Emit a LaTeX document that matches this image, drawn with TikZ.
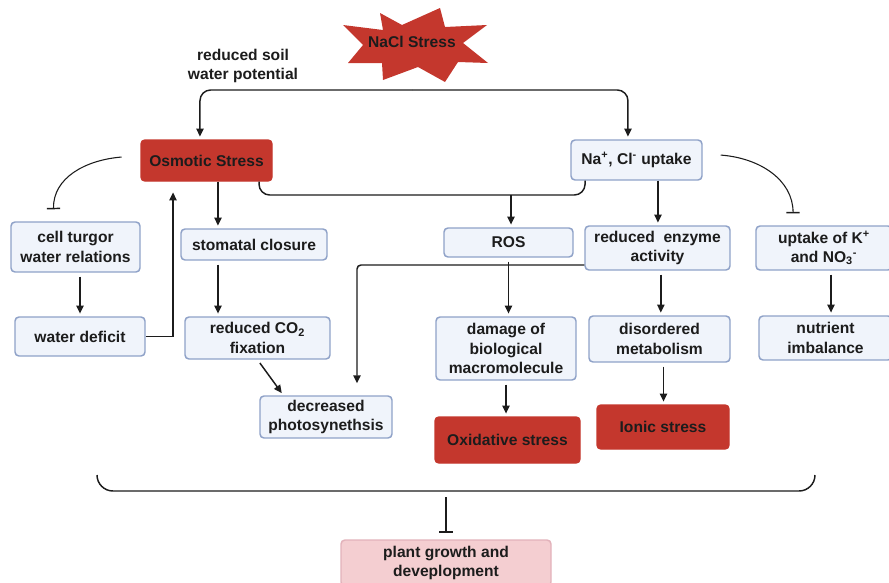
\documentclass[tikz,border=0pt]{standalone}
\usepackage{fontspec}
\setmainfont{Liberation Sans}
\usetikzlibrary{arrows.meta}
\definecolor{redf}{RGB}{196,55,45}
\definecolor{bfill}{RGB}{240,244,251}
\definecolor{bdr}{RGB}{143,162,200}
\definecolor{pinkf}{RGB}{244,206,209}
\definecolor{pinkb}{RGB}{226,178,186}
\definecolor{txt}{RGB}{28,28,28}
\newcommand\fsz{\fontsize{11.7}{14.5}\selectfont}
\tikzset{
  basebox/.style={rounded corners=3pt, line width=1.1pt, align=center, inner sep=0pt, font=\bfseries\fsz, text=txt},
  bbox/.style={basebox, draw=bdr, fill=bfill},
  rbox/.style={basebox, draw=redf, fill=redf},
  pbox/.style={basebox, draw=pinkb, fill=pinkf},
  arr/.style={line width=1.1pt, draw=txt, -{Triangle[length=6pt,width=5.5pt]}, shorten >=2pt, shorten <=3pt},
  inh/.style={line width=0.8pt, draw=txt, -{Bar[width=10pt,line width=1.1pt]}},
  ln/.style={line width=1.1pt, draw=txt},
}
\begin{document}
\begin{tikzpicture}[x=0.75pt,y=-0.75pt]
\useasboundingbox (0,0) rectangle (889,582);
\clip (0,0) rectangle (889,582);
% star
\fill[redf] (380,13) -- (402,25) -- (440,8) -- (445,27) -- (487,25) -- (463,43)
  -- (488,63) -- (458,62) -- (445,82) -- (418,67) -- (383,80) -- (382,63)
  -- (348,63) -- (363,45) -- (343,25) -- (383,30) -- cycle;
\node[font=\bfseries\fsz, text=txt] (nacl) at (412,42) {NaCl Stress};
\node[font=\bfseries\fsz, text=txt, align=center, inner sep=0pt] (soil) at (243,66)
  {\fontsize{11.7}{13}\selectfont reduced soil\\water potential};

% boxes
\node[rbox, minimum width=98.25pt, minimum height=30.75pt] (osm) at (206.5,160.5) {Osmotic Stress};
\node[bbox, minimum width=98.25pt, minimum height=30pt] (na) at (636.5,160) {Na\textsuperscript{+}, Cl\textsuperscript{-} uptake};
\node[bbox, minimum width=96.75pt, minimum height=37.5pt] (turgor) at (75.5,247) {cell turgor\\water relations};
\node[bbox, minimum width=97.5pt, minimum height=29.25pt] (deficit) at (80,336.5) {water deficit};
\node[bbox, minimum width=109.5pt, minimum height=23.25pt] (stomatal) at (254,244.5) {stomatal closure};
\node[bbox, minimum width=108.75pt, minimum height=31.5pt] (co2) at (257.5,338) {reduced CO\textsubscript{2}\\fixation};
\node[bbox, minimum width=99pt, minimum height=31.5pt] (photo) at (326,417) {decreased\\photosynethsis};
\node[bbox, minimum width=96.75pt, minimum height=21.75pt] (ros) at (508.5,242.5) {ROS};
\node[bbox, minimum width=108.75pt, minimum height=33pt] (enzyme) at (657.5,248) {reduced\ \ enzyme\\activity};
\node[bbox, minimum width=102pt, minimum height=33pt] (uptake) at (824,248) {uptake of K\textsuperscript{+}\\and NO\textsubscript{3}\textsuperscript{-}};
\node[bbox, minimum width=105pt, minimum height=47.25pt] (damage) at (506,348.5) {damage of\\biological\\macromolecule};
\node[bbox, minimum width=105.75pt, minimum height=34.5pt] (disordered) at (659.5,339) {disordered\\metabolism};
\node[bbox, minimum width=99.75pt, minimum height=33pt] (nutrient) at (825.5,338) {nutrient\\imbalance};
\node[rbox, minimum width=108.75pt, minimum height=34.5pt] (oxid) at (507.5,440) {Oxidative stress};
\node[rbox, minimum width=99pt, minimum height=33pt] (ionic) at (663,427) {Ionic stress};
\node[pbox, minimum width=157.5pt, minimum height=34.5pt] (plant) at (446,563) {plant growth and\\deveplopment};

% top split
\coordinate (split) at (412,90);
\draw[arr, shorten <=0pt, rounded corners=8pt] (split) -| ([xshift=-4.9pt]osm.north);
\draw[arr, shorten <=0pt, rounded corners=8pt] (split) -| ([xshift=-6.4pt]na.north);

% bottom bus osm - na
\coordinate (rosjoin) at (511,195);
\draw[ln, rounded corners=8pt] ([xshift=39.4pt]osm.south) |- (rosjoin) -| ([xshift=-38.6pt]na.south);
\draw[arr, shorten <=0pt] (rosjoin) -- (rosjoin |- ros.north);

% osm -> stomatal, na -> enzyme
\draw[arr, shorten <=0pt] ([xshift=8.6pt]osm.south) -- ([xshift=8.6pt]osm.south |- stomatal.north);
\draw[arr, shorten <=0pt] ([xshift=16.1pt]na.south) -- ([xshift=16.1pt]na.south |- enzyme.north);

% inhibition curves
\draw[inh] ([xshift=-14pt,yshift=2.6pt]osm.west) .. controls (85,160) and (53,178) .. ([xshift=-16.5pt,yshift=9pt]turgor.north);
\draw[inh] ([xshift=13.5pt,yshift=3.7pt]na.east) .. controls (760,158) and (793,180) .. ([xshift=-23.2pt,yshift=9pt]uptake.north);

% left column
\draw[arr] (deficit.north |- turgor.south) -- (deficit.north);
\draw[ln, -{Triangle[length=6pt,width=5.5pt]}, shorten >=8pt] (deficit.east) -| ([xshift=-25.1pt]osm.south);
\draw[arr] ([xshift=-27pt]stomatal.south) -- ([xshift=-27pt]stomatal.south |- co2.north);
\draw[arr] (co2.south) -- ([xshift=-32pt]photo.north);
\draw[ln, -{Triangle[length=6pt,width=5.5pt]}, shorten >=9pt, rounded corners=3pt] ([yshift=-12.75pt]enzyme.west) -| ([xshift=23.25pt]photo.north);

% middle / right columns
\draw[arr] (ros.south) -- (ros.south |- damage.north);
\draw[arr] (damage.south) -- (damage.south |- oxid.north);
\draw[arr] ([xshift=2.5pt]enzyme.south) -- ([xshift=2.5pt]enzyme.south |- disordered.north);
\draw[arr] ([xshift=3pt]disordered.south) -- ([xshift=3pt]disordered.south |- ionic.north);
\draw[arr] ([xshift=5.25pt]uptake.south) -- ([xshift=5.25pt]uptake.south |- nutrient.north);

% brace
\coordinate (braceL) at (97,475);
\coordinate (braceBL) at (97,491);
\coordinate (braceBR) at (815,491);
\coordinate (braceR) at (815,475);
\coordinate (bmid) at (446,497);
\draw[ln, rounded corners=12pt] (braceL) -- (braceBL) -- (braceBR) -- (braceR);
\draw[inh, shorten >=5pt] (bmid) -- (plant.north);
\end{tikzpicture}
\end{document}
